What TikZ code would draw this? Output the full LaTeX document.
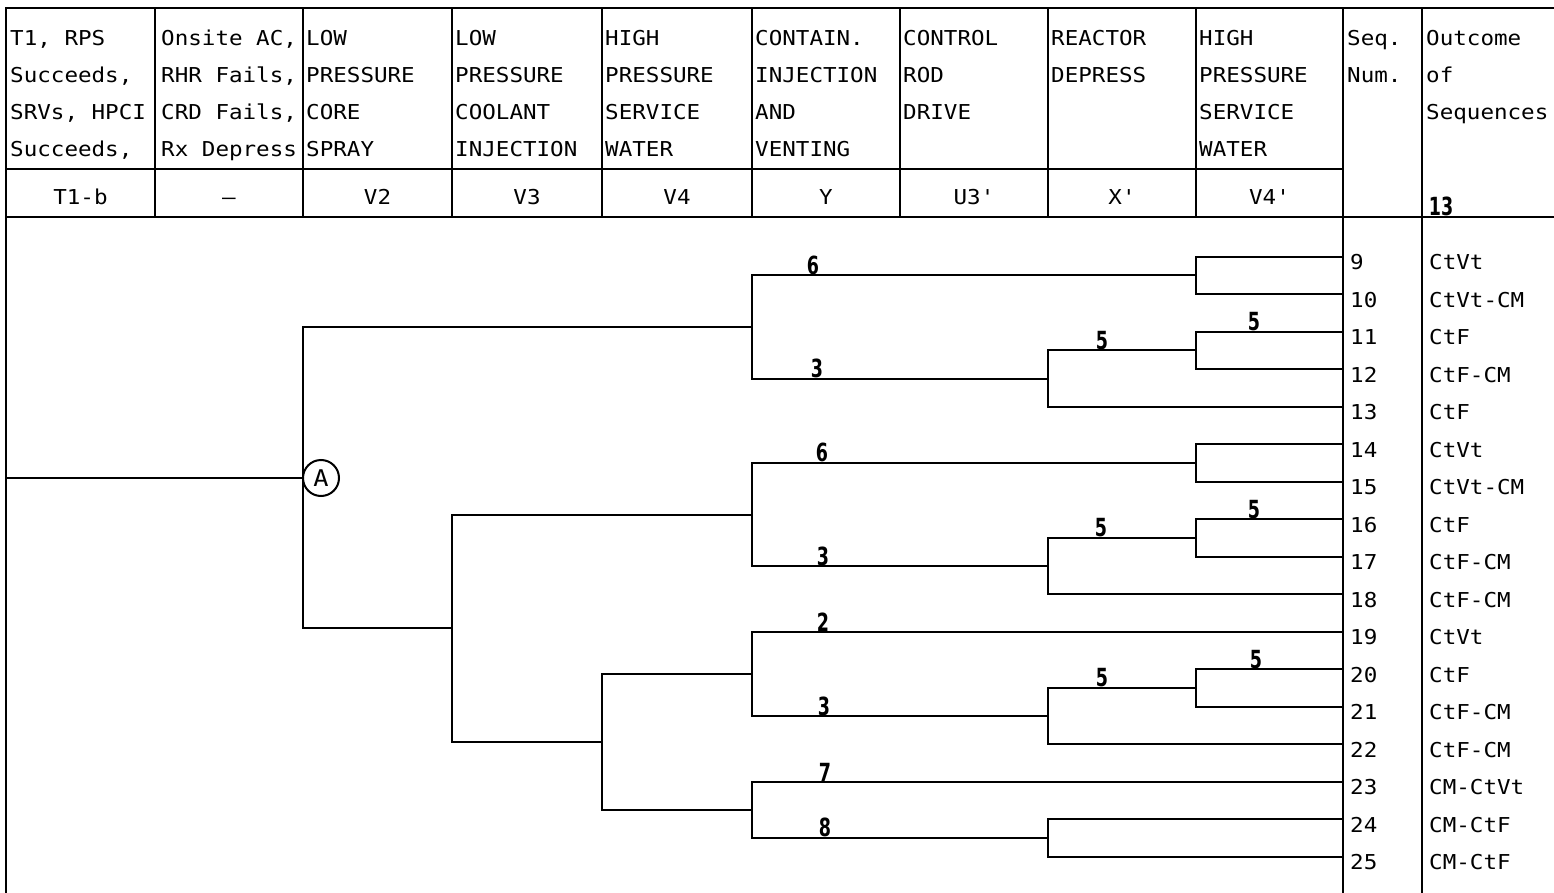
\documentclass[tikz,border=0pt]{standalone}
\usepackage{fontspec}
\newfontfamily\plotfont{DejaVu Sans Mono}[FakeStretch=1.1]
\newfontfamily\labfont{DejaVu Sans}[FakeStretch=0.7]
\tikzset{
  grid/.style={line width=1.8pt, line cap=rect},
  branch/.style={line width=2pt},
  hdr/.style={anchor=base west, inner sep=0pt, font=\plotfont\fontsize{20.5}{20.5}\selectfont},
  codetxt/.style={anchor=base, inner sep=0pt, font=\plotfont\fontsize{20.5}{20.5}\selectfont},
  lab/.style={anchor=south, inner sep=0pt, yshift=0.5pt, font=\labfont\bfseries\fontsize{25}{25}\selectfont},
}
\newcommand\hd[4]{\node[hdr] (h#1r#2) at (#3,{9.3+36.7*#2}) {#4};}
\begin{document}
\begin{tikzpicture}[x=1pt,y=-1pt]
\useasboundingbox (0,0) rectangle (1554,893);
% ---------- table frame ----------
\draw[grid] (6,8) -- (1554,8);
\draw[grid] (6,8) -- (6,893);
\draw[grid] (6,169) -- (1343,169);
\draw[grid] (6,217) -- (1554,217);
\foreach \cx in {155,303,452,602,752,900,1048,1196}{
  \draw[grid] (\cx,8) -- (\cx,217);
}
\draw[grid] (1343,8) -- (1343,893);
\draw[grid] (1422,8) -- (1422,893);
% ---------- header texts ----------
\hd{1}{1}{10}{T1, RPS}
\hd{1}{2}{10}{Succeeds,}
\hd{1}{3}{10}{SRVs, HPCI}
\hd{1}{4}{10}{Succeeds,}
\hd{2}{1}{161}{Onsite AC,}
\hd{2}{2}{161}{RHR Fails,}
\hd{2}{3}{161}{CRD Fails,}
\hd{2}{4}{161}{Rx Depress}
\hd{3}{1}{306}{LOW}
\hd{3}{2}{306}{PRESSURE}
\hd{3}{3}{306}{CORE}
\hd{3}{4}{306}{SPRAY}
\hd{4}{1}{455}{LOW}
\hd{4}{2}{455}{PRESSURE}
\hd{4}{3}{455}{COOLANT}
\hd{4}{4}{455}{INJECTION}
\hd{5}{1}{605}{HIGH}
\hd{5}{2}{605}{PRESSURE}
\hd{5}{3}{605}{SERVICE}
\hd{5}{4}{605}{WATER}
\hd{6}{1}{755}{CONTAIN.}
\hd{6}{2}{755}{INJECTION}
\hd{6}{3}{755}{AND}
\hd{6}{4}{755}{VENTING}
\hd{7}{1}{903}{CONTROL}
\hd{7}{2}{903}{ROD}
\hd{7}{3}{903}{DRIVE}
\hd{8}{1}{1051}{REACTOR}
\hd{8}{2}{1051}{DEPRESS}
\hd{9}{1}{1199}{HIGH}
\hd{9}{2}{1199}{PRESSURE}
\hd{9}{3}{1199}{SERVICE}
\hd{9}{4}{1199}{WATER}
\hd{10}{1}{1347}{Seq.}
\hd{10}{2}{1347}{Num.}
\hd{11}{1}{1426}{Outcome}
\hd{11}{2}{1426}{of}
\hd{11}{3}{1426}{Sequences}
% ---------- code row ----------
\node[codetxt] (k1) at (80.5,205) {T1-b};
\node[codetxt] (k2) at (229,205) {–};
\node[codetxt] (k3) at (377.5,205) {V2};
\node[codetxt] (k4) at (527,205) {V3};
\node[codetxt] (k5) at (677,205) {V4};
\node[codetxt] (k6) at (826,205) {Y};
\node[codetxt] (k7) at (974,205) {U3'};
\node[codetxt] (k8) at (1122,205) {X'};
\node[codetxt] (k9) at (1269.5,205) {V4'};
\node[lab] (k11) at (1441,217) {13};
% ---------- sequence rows ----------
\foreach \k/\o in {9/CtVt,10/CtVt-CM,11/CtF,12/CtF-CM,13/CtF,14/CtVt,15/CtVt-CM,16/CtF,17/CtF-CM,18/CtF-CM,19/CtVt,20/CtF,21/CtF-CM,22/CtF-CM,23/CM-CtVt,24/CM-CtF,25/CM-CtF}{
  \pgfmathsetmacro\yy{256.7+37.5*(\k-9)}
  \coordinate (e\k) at (1343,\yy);
  \node[hdr] (s\k) at (1350,\yy+13) {\k};
  \node[hdr] (o\k) at (1429,\yy+13) {\o};
}
% ---------- tree junctions ----------
\coordinate (init) at (6,477.6);
\coordinate (A) at (303,477.6);
\coordinate (T) at (752,327.0);
\coordinate (P910) at (1196,275.45);
\coordinate (X1) at (1048,378.6);
\coordinate (P1112) at (1196,350.45);
\coordinate (B) at (452,628.2);
\coordinate (B1) at (752,514.5);
\coordinate (P1415) at (1196,462.95);
\coordinate (X2) at (1048,566.1);
\coordinate (P1617) at (1196,537.95);
\coordinate (B2) at (602,741.9);
\coordinate (C1) at (752,673.9);
\coordinate (X3) at (1048,716.1);
\coordinate (P2021) at (1196,687.95);
\coordinate (C2) at (752,809.8);
\coordinate (P2425) at (1048,837.95);
\node[draw, circle, line width=2pt, minimum size=36pt, inner sep=0pt, font=\plotfont\fontsize{23}{23}\selectfont] (Ac) at (321,478) {A};
% ---------- tree branches ----------
\draw[branch] (init) -- (A);
\draw[branch] (A) |- (T);  \draw[branch] (A) |- (B);
\draw[branch] (T) |- (P910); \draw[branch] (T) |- (X1);
\draw[branch] (P910) |- (e9); \draw[branch] (P910) |- (e10);
\draw[branch] (X1) |- (P1112); \draw[branch] (X1) |- (e13);
\draw[branch] (P1112) |- (e11); \draw[branch] (P1112) |- (e12);
\draw[branch] (B) |- (B1); \draw[branch] (B) |- (B2);
\draw[branch] (B1) |- (P1415); \draw[branch] (B1) |- (X2);
\draw[branch] (P1415) |- (e14); \draw[branch] (P1415) |- (e15);
\draw[branch] (X2) |- (P1617); \draw[branch] (X2) |- (e18);
\draw[branch] (P1617) |- (e16); \draw[branch] (P1617) |- (e17);
\draw[branch] (B2) |- (C1); \draw[branch] (B2) |- (C2);
\draw[branch] (C1) |- (e19); \draw[branch] (C1) |- (X3);
\draw[branch] (X3) |- (P2021); \draw[branch] (X3) |- (e22);
\draw[branch] (P2021) |- (e20); \draw[branch] (P2021) |- (e21);
\draw[branch] (C2) |- (e23); \draw[branch] (C2) |- (P2425);
\draw[branch] (P2425) |- (e24); \draw[branch] (P2425) |- (e25);
% ---------- branch labels ----------
\node[lab] (l1) at (813,275.45) {6};
\node[lab] (l2) at (817,378.6) {3};
\node[lab] (l3) at (1102,350.45) {5};
\node[lab] (l4) at (1254,331.7) {5};
\node[lab] (l5) at (822,462.95) {6};
\node[lab] (l6) at (823,566.1) {3};
\node[lab] (l7) at (1101,537.95) {5};
\node[lab] (l8) at (1254,519.2) {5};
\node[lab] (l9) at (823,631.7) {2};
\node[lab] (l10) at (824,716.1) {3};
\node[lab] (l11) at (1102,687.95) {5};
\node[lab] (l12) at (1256,669.2) {5};
\node[lab] (l13) at (825,781.7) {7};
\node[lab] (l14) at (825,837.95) {8};
\end{tikzpicture}
\end{document}
